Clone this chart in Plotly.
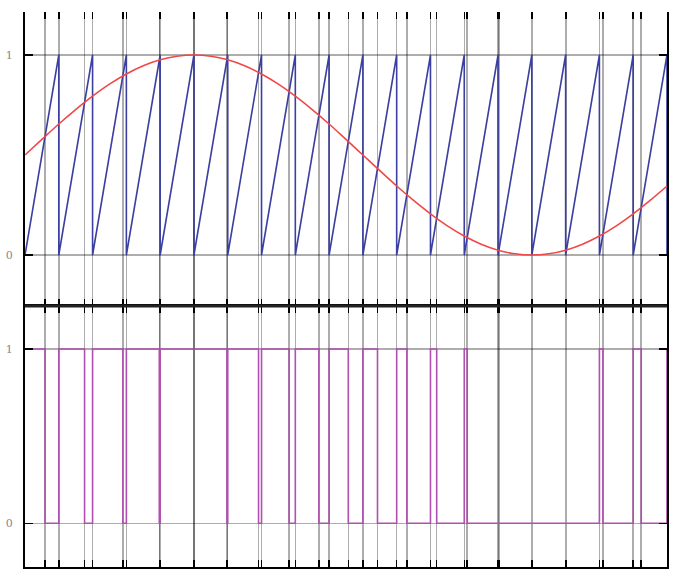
import plotly.graph_objects as go

# ---- data ----
# sawtooth carrier: resets at each integer period
saw_resets = [0, 1, 2, 3, 4, 5, 6, 7, 8, 9, 10, 11, 12, 13, 14, 15, 16, 17, 18, 19]

# reference (sine) signal samples
sine_t = [0, 0.5, 1, 1.5, 2, 2.5, 3, 3.5, 4, 4.5, 5, 5.5, 6, 6.5, 7, 7.5, 8, 8.5, 9, 9.5,
          10, 10.5, 11, 11.5, 12, 12.5, 13, 13.5, 14, 14.5, 15, 15.5, 16, 16.5, 17, 17.5,
          18, 18.5, 19]
sine_v = [0.500, 0.578, 0.655, 0.727, 0.794, 0.854, 0.905, 0.946, 0.976, 0.994, 1.000,
          0.994, 0.976, 0.946, 0.905, 0.854, 0.794, 0.727, 0.655, 0.578, 0.500, 0.422,
          0.345, 0.273, 0.206, 0.146, 0.095, 0.054, 0.024, 0.006, 0.000, 0.006, 0.024,
          0.054, 0.095, 0.146, 0.206, 0.273, 0.345]

# points where the sine crosses the sawtooth
crossings = [0.593, 1.763, 2.895, 3.974, 4.999, 5.976, 6.912, 7.817, 8.698, 9.568,
             10.432, 11.301, 12.184, 13.088, 14.023, 15.0, 16.026, 17.104, 18.237]

# PWM output: switching times and new level
pwm_t = [0, 0.593, 1, 1.763, 2, 2.895, 3, 3.974, 4, 5.976, 6, 6.912, 7, 7.817, 8,
         8.698, 9, 9.568, 10, 10.432, 11, 11.301, 12, 12.184, 13, 13.088, 17, 17.104,
         18, 18.237, 19]
pwm_level = [1, 0, 1, 0, 1, 0, 1, 0, 1, 0, 1, 0, 1, 0, 1,
             0, 1, 0, 1, 0, 1, 0, 1, 0, 1, 0, 1, 0,
             1, 0, 1]

# ---- build traces ----
saw_x, saw_y = [], []
for a, b in zip(saw_resets[:-1], saw_resets[1:]):
    saw_x += [a, b, b]
    saw_y += [0, 1, 0]

events = sorted(set(saw_resets + crossings))

fig = go.Figure()
fig.add_trace(go.Scatter(x=saw_x, y=saw_y, mode="lines",
                         line=dict(color="#3b40a0", width=1.6),
                         xaxis="x2", yaxis="y2", hoverinfo="skip", cliponaxis=False))
fig.add_trace(go.Scatter(x=sine_t, y=sine_v, mode="lines", line_shape="spline",
                         line=dict(color="#f04848", width=1.6),
                         xaxis="x2", yaxis="y2", hoverinfo="skip"))
fig.add_trace(go.Scatter(x=pwm_t, y=pwm_level, mode="lines", line_shape="hv",
                         line=dict(color="#b050b0", width=1.6),
                         xaxis="x", yaxis="y", hoverinfo="skip", cliponaxis=False))

split = 261 / 555.0
xcommon = dict(range=[0, 19], autorange=False, tickvals=events, showticklabels=False,
               ticks="inside", ticklen=7, tickwidth=1.5, tickcolor="black",
               showgrid=True, gridcolor="rgba(0,0,0,0.32)", gridwidth=1.5,
               zeroline=False, fixedrange=True, automargin=False)
ycommon = dict(tickvals=[0, 1], ticktext=["0", "1"], ticks="inside", ticklen=8,
               tickwidth=1.2, tickcolor="black", showline=True, linecolor="black",
               linewidth=2, mirror="ticks", showgrid=True,
               gridcolor="rgba(0,0,0,0.32)", gridwidth=1.3, zeroline=False,
               tickfont=dict(family="DejaVu Serif", size=11, color="#888"),
               ticklabelstandoff=8, automargin=False, fixedrange=True)

fig.update_layout(
    width=677, height=576,
    margin=dict(l=25, r=10, t=12, b=9, autoexpand=False),
    paper_bgcolor="white", plot_bgcolor="white",
    showlegend=False,
    xaxis=dict(**xcommon, anchor="y", showline=True, linecolor="black",
               linewidth=2, mirror="ticks"),
    xaxis2=dict(**xcommon, anchor="y2", showline=False, mirror="ticks"),
    yaxis=dict(**ycommon, domain=[0, split], range=[-0.251, 1.247]),
    yaxis2=dict(**ycommon, domain=[split, 1], range=[-0.255, 1.215]),
)
# thick separator between panels
fig.add_shape(type="line", xref="paper", yref="paper", x0=0, x1=1, y0=split, y1=split,
              line=dict(color="#222", width=3))

fig.write_html("out.html", config={"staticPlot": True},
               post_script="document.body.style.margin='0';")
